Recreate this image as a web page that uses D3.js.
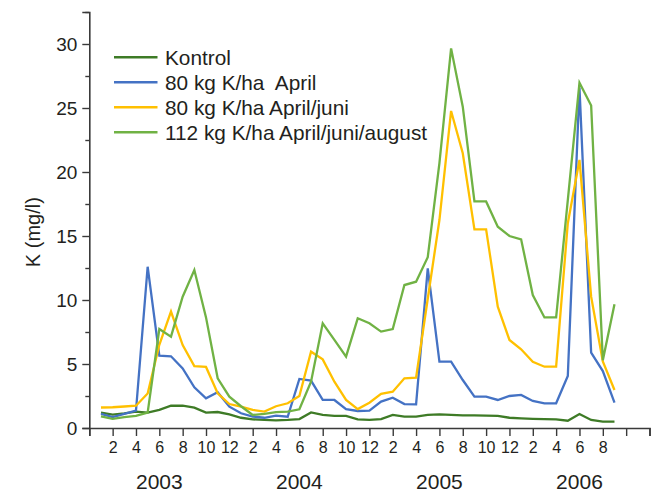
<!DOCTYPE html>
<html>
<head>
<meta charset="utf-8">
<script src="https://cdn.jsdelivr.net/npm/d3@7"></script>
<style>
  html, body { margin: 0; padding: 0; background: #fff; }
  svg { display: block; }
  text { font-family: "Liberation Sans", Arial, sans-serif; fill: #231f20; }
</style>
</head>
<body>
<svg id="chart" width="651" height="493"></svg>
<script>
// Month index: 1 = Jan 2003 ... 45 = Sep 2006
const months = d3.range(1, 46);
const seriesNames = ["Kontrol", "80 kg K/ha  April", "80 kg K/ha April/juni", "112 kg K/ha April/juni/august"];
const seriesColors = ["#3e7b26", "#4472c4", "#ffc000", "#70b244"];

const kontrol = [1.2, 1.05, 1.15, 1.28, 1.2, 1.41, 1.74, 1.74, 1.59, 1.2, 1.25, 1.07,
  0.8, 0.68, 0.63, 0.6, 0.63, 0.7, 1.22, 1.02, 0.94, 0.94, 0.68, 0.63,
  0.7, 1.02, 0.89, 0.89, 1.02, 1.07, 1.02, 0.99, 0.99, 0.96, 0.94, 0.8,
  0.75, 0.72, 0.7, 0.68, 0.57, 1.09, 0.63, 0.5, 0.5];
const april = [1.1, 0.85, 1.1, 1.35, 12.6, 5.65, 5.6, 4.66, 3.18, 2.32, 2.79, 1.67,
  1.15, 0.89, 0.8, 0.96, 0.88, 3.83, 3.7, 2.19, 2.19, 1.48, 1.33, 1.35,
  2.06, 2.37, 1.87, 1.85, 12.47, 5.18, 5.18, 3.75, 2.45, 2.45, 2.19, 2.5,
  2.58, 2.11, 1.93, 1.93, 4.06, 26.6, 5.89, 4.45, 1.98];
const aprilJuni = [1.6, 1.62, 1.68, 1.74, 2.7, 6.5, 9.1, 6.48, 4.84, 4.77, 2.71, 1.87,
  1.67, 1.41, 1.28, 1.7, 1.93, 2.5, 5.96, 5.36, 3.62, 2.19, 1.48, 1.98,
  2.66, 2.84, 3.88, 3.93, 10.1, 16.25, 24.77, 21.46, 15.52, 15.52, 9.48, 6.88,
  6.15, 5.18, 4.79, 4.79, 16.0, 20.94, 10.26, 5.2, 2.97];
const aprilJuniAugust = [0.9, 0.72, 0.85, 0.95, 1.2, 7.73, 7.14, 10.26, 12.34, 8.64, 3.88, 2.45,
  1.7, 1.02, 1.1, 1.24, 1.28, 1.46, 3.62, 8.18, 6.88, 5.57, 8.57, 8.18,
  7.53, 7.73, 11.17, 11.43, 13.35, 20.7, 29.66, 25.1, 17.7, 17.7, 15.73, 15.0,
  14.74, 10.39, 8.64, 8.64, 17.8, 26.98, 25.2, 5.3, 9.66];

const xTickValues = d3.range(0, 49, 2);
const xTickLabels = ["", "2", "4", "6", "8", "10", "12", "2", "4", "6", "8", "10", "12",
  "2", "4", "6", "8", "10", "12", "2", "4", "6", "8", "", ""];
const years = ["2003", "2004", "2005", "2006"];
const yearCenters = [6, 18, 30, 42];
const yMajorTicks = [0, 5, 10, 15, 20, 25, 30];
const yMinorTicks = [2.5, 7.5, 12.5, 17.5, 22.5, 27.5, 32.5];

const allSeries = [kontrol, april, aprilJuni, aprilJuniAugust];

const svg = d3.select("#chart");
const x = d3.scaleLinear().domain([0, 48]).range([89.3, 649.5]);
const y = d3.scaleLinear().domain([0, 32.5]).range([428, 12]);

const axisColor = "#3a3a3a";

// Y axis
const yAxis = d3.axisLeft(y).tickValues(yMajorTicks).tickSize(7).tickPadding(5).tickFormat(d3.format("d"));
const gy = svg.append("g").attr("transform", `translate(${x(0)},0)`).call(yAxis);
gy.select(".domain").attr("stroke", axisColor).attr("stroke-width", 1.6);
gy.selectAll(".tick line").attr("stroke", axisColor).attr("stroke-width", 1.4);
gy.selectAll(".tick text").attr("font-size", "19px").attr("fill", "#231f20");
const yMinor = d3.axisLeft(y).tickValues(yMinorTicks).tickSize(4).tickFormat("");
const gym = svg.append("g").attr("transform", `translate(${x(0)},0)`).call(yMinor);
gym.select(".domain").remove();
gym.selectAll(".tick line").attr("stroke", axisColor).attr("stroke-width", 1.4);

// X axis
const xAxis = d3.axisBottom(x).tickValues(xTickValues).tickSize(8).tickPadding(6)
  .tickFormat((d, i) => xTickLabels[i]);
const gx = svg.append("g").attr("transform", `translate(0,${y(0)})`).call(xAxis);
gx.select(".domain").attr("stroke", axisColor).attr("stroke-width", 1.6);
gx.selectAll(".tick line").attr("stroke", axisColor).attr("stroke-width", 1.4);
gx.selectAll(".tick text").attr("font-size", "16px").attr("fill", "#231f20");

// Year labels
svg.append("g").selectAll("text").data(years).join("text")
  .attr("x", (d, i) => x(yearCenters[i]))
  .attr("y", 489)
  .attr("text-anchor", "middle")
  .attr("font-size", "21px")
  .text(d => d);

// Y axis title
svg.append("text")
  .attr("transform", `translate(40,${y(15.3)}) rotate(-90)`)
  .attr("text-anchor", "middle")
  .attr("font-size", "20px")
  .text("K (mg/l)");

// Lines
const line = d3.line().x((d, i) => x(months[i])).y(d => y(d));
svg.append("g").selectAll("path").data(allSeries).join("path")
  .attr("d", d => line(d))
  .attr("fill", "none")
  .attr("stroke", (d, i) => seriesColors[i])
  .attr("stroke-width", 2.3)
  .attr("stroke-linejoin", "miter");

// Legend
const legendY = [57.3, 82.3, 107.3, 132.3];
const lg = svg.append("g").selectAll("g").data(seriesNames).join("g")
  .attr("transform", (d, i) => `translate(0,${legendY[i]})`);
lg.append("line").attr("x1", 114).attr("x2", 157.5).attr("y1", 0).attr("y2", 0)
  .attr("stroke", (d, i) => seriesColors[i]).attr("stroke-width", 2.5);
lg.append("text").attr("x", 165).attr("y", 0).attr("dy", "0.36em")
  .attr("font-size", "20.8px").style("white-space", "pre").attr("xml:space", "preserve")
  .text(d => d);
</script>
</body>
</html>
